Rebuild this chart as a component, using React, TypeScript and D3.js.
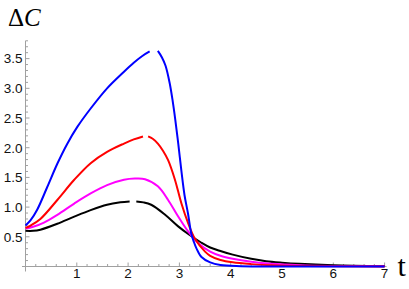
import React from "react";
import * as d3 from "d3";

const W = 409;
const H = 289;

const xTicks = [1, 2, 3, 4, 5, 6, 7];
const yTicks = [0.5, 1.0, 1.5, 2.0, 2.5, 3.0, 3.5];

// each series: list of segments, each a list of [t, ΔC]
const blueSeries: [number, number][][] = [
  [[0, 0.69], [0.1, 0.78], [0.23, 0.96], [0.42, 1.33], [0.62, 1.73], [0.81, 2.06], [1.01, 2.35], [1.27, 2.66], [1.59, 3.0], [1.92, 3.28], [2.11, 3.43], [2.27, 3.54], [2.42, 3.62]],
  [[2.58, 3.63], [2.66, 3.52], [2.73, 3.38], [2.81, 3.09], [2.87, 2.78], [2.92, 2.47], [2.98, 2.05], [3.04, 1.6], [3.1, 1.2], [3.17, 0.88], [3.23, 0.56], [3.28, 0.42], [3.33, 0.31], [3.43, 0.16], [3.6, 0.07], [3.8, 0.025], [4.2, 0.006], [5, 0.001], [7, 0]],
];
const redSeries: [number, number][][] = [
  [[0, 0.65], [0.1, 0.69], [0.29, 0.8], [0.62, 1.12], [0.95, 1.46], [1.27, 1.74], [1.59, 1.93], [1.92, 2.07], [2.11, 2.14], [2.29, 2.19]],
  [[2.39, 2.19], [2.48, 2.15], [2.58, 2.07], [2.68, 1.95], [2.78, 1.79], [2.91, 1.47], [3.04, 1.06], [3.17, 0.73], [3.3, 0.47], [3.5, 0.25], [3.6, 0.18], [3.8, 0.11], [4.04, 0.07], [4.4, 0.04], [4.8, 0.02], [5.5, 0.008], [7, 0.002]],
];
const magentaSeries: [number, number][][] = [
  [[0, 0.64], [0.15, 0.67], [0.36, 0.74], [0.62, 0.87], [0.95, 1.06], [1.27, 1.23], [1.59, 1.37], [1.92, 1.46], [2.13, 1.48], [2.33, 1.47], [2.58, 1.35], [2.78, 1.12], [2.97, 0.85], [3.17, 0.59], [3.37, 0.39], [3.6, 0.25], [3.8, 0.18], [4.04, 0.13], [4.4, 0.08], [4.8, 0.045], [5.34, 0.022], [6, 0.01], [7, 0.004]],
];
const blackSeries: [number, number][][] = [
  [[0, 0.6], [0.15, 0.6], [0.29, 0.62], [0.62, 0.72], [0.95, 0.84], [1.27, 0.95], [1.59, 1.04], [1.85, 1.08], [2.03, 1.095]],
  [[2.16, 1.095], [2.3, 1.08], [2.45, 1.04], [2.71, 0.88], [2.97, 0.68], [3.2, 0.53], [3.43, 0.4], [3.6, 0.32], [3.8, 0.26], [4.04, 0.2], [4.4, 0.13], [4.69, 0.09], [5.0, 0.065], [5.34, 0.045], [6, 0.022], [7, 0.008]],
];

const seriesList = [
  { color: "#000000", data: blackSeries },
  { color: "#ff00ff", data: magentaSeries },
  { color: "#ff0000", data: redSeries },
  { color: "#0000ff", data: blueSeries },
];

export default function App() {
  const x = d3.scaleLinear().domain([0, 7]).range([25.5, 384.6]);
  const y = d3.scaleLinear().domain([0, 3.8]).range([266.5, 40.8]);
  const line = d3
    .line<[number, number]>()
    .x((d) => x(d[0]))
    .y((d) => y(Math.max(0, d[1])))
    .curve(d3.curveCatmullRom.alpha(0.5));

  const xMinor = d3.range(0.2, 7.001, 0.2).filter((v) => Math.abs(v - Math.round(v)) > 1e-6);
  const yMinor = d3.range(0.1, 3.801, 0.1).filter((v) => Math.abs(v * 2 - Math.round(v * 2)) > 1e-6);
  const axisColor = "#a0a0a0";
  const labelFont = "'Liberation Sans', Arial, sans-serif";
  const serif = "'Liberation Serif', 'Times New Roman', serif";

  return (
    <svg width={W} height={H} style={{ position: "absolute", left: 0, top: 0 }}>
      <rect width={W} height={H} fill="#fff" />
      {/* axes */}
      <line x1={22} x2={x(7) + 2} y1={y(0)} y2={y(0)} stroke={axisColor} strokeWidth={1} />
      <line x1={x(0)} x2={x(0)} y1={y(0) + 5} y2={y(3.8)} stroke={axisColor} strokeWidth={1} />
      {xTicks.map((t) => (
        <line key={"xt" + t} x1={x(t)} x2={x(t)} y1={y(0)} y2={y(0) - 4} stroke={axisColor} />
      ))}
      {xMinor.map((t) => (
        <line key={"xm" + t} x1={x(t)} x2={x(t)} y1={y(0)} y2={y(0) - 2.5} stroke={axisColor} />
      ))}
      {yTicks.map((v) => (
        <line key={"yt" + v} x1={x(0)} x2={x(0) + 4} y1={y(v)} y2={y(v)} stroke={axisColor} />
      ))}
      {yMinor.map((v) => (
        <line key={"ym" + v} x1={x(0)} x2={x(0) + 2.5} y1={y(v)} y2={y(v)} stroke={axisColor} />
      ))}
      {xTicks.map((t) => (
        <text key={"xl" + t} x={x(t)} y={278} textAnchor="middle" fontFamily={labelFont} fontSize={13.5} fill="#111">
          {t}
        </text>
      ))}
      {yTicks.map((v) => (
        <text key={"yl" + v} x={22.5} y={y(v) + 4.8} textAnchor="end" fontFamily={labelFont} fontSize={13.5} fill="#111">
          {v.toFixed(1)}
        </text>
      ))}
      {/* curves */}
      {seriesList.map((s, i) =>
        s.data.map((seg, j) => (
          <path key={i + "-" + j} d={line(seg) || ""} fill="none" stroke={s.color} strokeWidth={2} strokeLinejoin="round" />
        ))
      )}
      {/* axis labels */}
      <text x={8} y={26} fontFamily={serif} fontSize={25} fill="#000">
        Δ<tspan fontStyle="italic">C</tspan>
      </text>
      <text x={397.5} y={276} fontFamily={serif} fontSize={30} fill="#000">
        t
      </text>
    </svg>
  );
}
